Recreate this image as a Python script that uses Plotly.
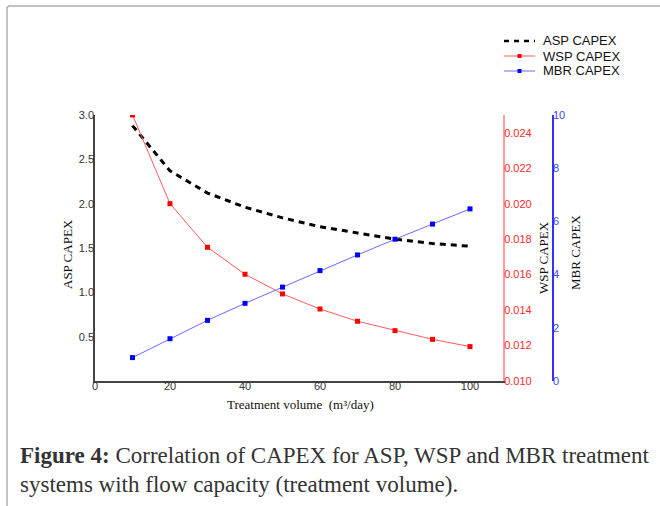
import plotly.graph_objects as go

# ---- data ----
volume = [10, 20, 30, 40, 50, 60, 70, 80, 90, 100]
asp_capex = [2.88, 2.37, 2.12, 1.96, 1.84, 1.74, 1.67, 1.60, 1.55, 1.52]
wsp_capex = [0.0250, 0.0200, 0.01754, 0.01602, 0.01491, 0.01406, 0.01337, 0.01284, 0.01235, 0.01194]
mbr_capex = [0.88, 1.59, 2.28, 2.92, 3.53, 4.15, 4.74, 5.33, 5.90, 6.47]

x_ticks = [0, 20, 40, 60, 80, 100]
asp_ticks = [0.5, 1.0, 1.5, 2.0, 2.5, 3.0]
wsp_ticks = [0.010, 0.012, 0.014, 0.016, 0.018, 0.020, 0.022, 0.024]
mbr_ticks = [0, 2, 4, 6, 8, 10]

series_names = ["ASP CAPEX", "WSP CAPEX", "MBR CAPEX"]

# ---- geometry (pixels) ----
W, H = 660, 506
L, R, T, B = 95, 553, 115, 381
PW, PH = R - L, B - T
X_END = 503


def px(x):
    return (x - L) / PW


def py(y):
    return (B - y) / PH


SANS = "Arial, Liberation Sans, sans-serif"
SERIF = "Times New Roman, Liberation Serif, serif"

asp_line = dict(color="black", width=3, dash="6px,5px")
wsp_line = dict(color="#ff5a5a", width=1)
mbr_line = dict(color="#6a6aff", width=1)
wsp_marker = dict(symbol="square", size=5, color="#ff0000")
mbr_marker = dict(symbol="square", size=5, color="#0000ff")

fig = go.Figure()
fig.add_trace(go.Scatter(x=volume, y=asp_capex, name=series_names[0],
                         mode="lines", line=asp_line, yaxis="y"))
fig.add_trace(go.Scatter(x=volume, y=wsp_capex, name=series_names[1],
                         mode="lines+markers", line=wsp_line,
                         marker=wsp_marker, yaxis="y2"))
fig.add_trace(go.Scatter(x=volume, y=mbr_capex, name=series_names[2],
                         mode="lines+markers", line=mbr_line,
                         marker=mbr_marker, yaxis="y3"))

fig.update_layout(
    width=W, height=H,
    margin=dict(l=L, r=W - R, t=T, b=H - B, pad=0),
    paper_bgcolor="white", plot_bgcolor="white",
    font=dict(family=SANS, size=11, color="#333"),
    showlegend=False,
    xaxis=dict(
        domain=[0, (X_END - L) / PW], range=[0, 108.8],
        tickvals=x_ticks, ticks="", showgrid=False, zeroline=False,
        showline=True, linecolor="#444", linewidth=1.5,
        tickfont=dict(family=SANS, size=11, color="#333"),
        ticklabelstandoff=-6),
    yaxis=dict(
        range=[0, 3], tickvals=asp_ticks,
        ticktext=[f"{v:.1f}" for v in asp_ticks],
        ticks="", showgrid=False, zeroline=False,
        showline=True, linecolor="#444", linewidth=1.5,
        tickfont=dict(family=SANS, size=11, color="#333"),
        ticklabelstandoff=-3),
    yaxis2=dict(
        overlaying="y", side="right", anchor="x",
        range=[0.010, 0.025], tickvals=wsp_ticks, tickformat=".3f",
        ticks="", showgrid=False, zeroline=False,
        showline=True, linecolor="#ff9c9c", linewidth=2,
        tickfont=dict(family=SANS, size=11, color="#ff2a2a"),
        ticklabelstandoff=-3),
    yaxis3=dict(
        overlaying="y", side="right", anchor="free", position=1.0,
        range=[0, 10], tickvals=mbr_ticks,
        ticks="", showgrid=False, zeroline=False,
        showline=True, linecolor="#3030ff", linewidth=1.5,
        tickfont=dict(family=SANS, size=11, color="#4444ff"),
        ticklabelstandoff=-3),
)

annotations = [
    dict(text="ASP CAPEX", x=px(68), y=py(254), textangle=-90,
         font=dict(family=SERIF, size=13, color="#111")),
    dict(text="WSP CAPEX", x=px(543), y=py(258), textangle=-90,
         font=dict(family=SERIF, size=13, color="#111")),
    dict(text="MBR CAPEX", x=px(575), y=py(253), textangle=-90,
         font=dict(family=SERIF, size=13, color="#111")),
    dict(text="Treatment volume  (m³/day)", x=px(300), y=py(404),
         font=dict(family=SERIF, size=13, color="#111")),
    dict(text="<b>Figure 4:</b> Correlation of CAPEX for ASP, WSP and MBR treatment",
         x=px(18), y=py(455), xanchor="left",
         font=dict(family=SERIF, size=23, color="#333")),
    dict(text="systems with flow capacity (treatment volume).",
         x=px(18), y=py(484), xanchor="left",
         font=dict(family=SERIF, size=23, color="#333")),
]

# ---- legend (drawn in the top-right corner) ----
legend_rows_y = [41, 56, 71]
legend_lines = [asp_line, wsp_line, mbr_line]
legend_markers = [None, "#ff0000", "#0000ff"]
shapes = []
for name, ry, ln, mk in zip(series_names, legend_rows_y, legend_lines, legend_markers):
    shapes.append(dict(type="line", xref="paper", yref="paper",
                       x0=px(504), x1=px(535), y0=py(ry), y1=py(ry),
                       line=dict(color=ln["color"], width=ln["width"] if mk else 2.5,
                                 dash="5px,5px" if mk is None else "solid")))
    if mk:
        shapes.append(dict(type="rect", xref="paper", yref="paper",
                           x0=px(517.5), x1=px(521.5), y0=py(ry + 2), y1=py(ry - 2),
                           fillcolor=mk, line=dict(width=0)))
    annotations.append(dict(text=name, x=px(541), y=py(ry), xanchor="left",
                            font=dict(family=SANS, size=13, color="#111")))

for a in annotations:
    a.update(xref="paper", yref="paper", showarrow=False)
    a.setdefault("xanchor", "center")
    a.setdefault("yanchor", "middle")

# card border (top and left edges with rounded corner)
border_path = (f"M {px(7)},{py(506)} L {px(7)},{py(9)} "
               f"Q {px(7)},{py(6)} {px(10)},{py(6)} L {px(660)},{py(6)}")
shapes.append(dict(type="path", path=border_path, xref="paper", yref="paper",
                   line=dict(color="#b0b0b0", width=1.5), layer="above"))

fig.update_layout(annotations=annotations, shapes=shapes)

fig.write_html("out.html",
               config={"displayModeBar": False},
               post_script="document.body.style.margin='0';document.body.style.overflow='hidden';")
